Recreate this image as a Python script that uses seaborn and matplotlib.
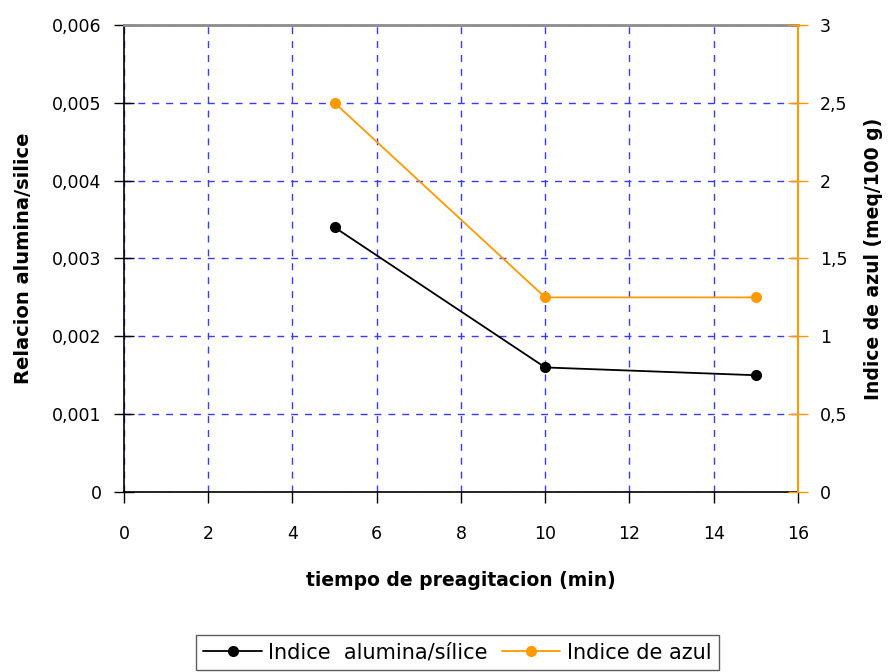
import matplotlib
matplotlib.use("Agg")
import matplotlib.pyplot as plt
from matplotlib.ticker import FuncFormatter, MultipleLocator
from matplotlib.lines import Line2D
import seaborn as sns
import pandas as pd

tiempo = [5, 10, 15]
alumina_silice = [0.0034, 0.0016, 0.0015]
indice_azul = [2.5, 1.25, 1.25]

sns.set_theme(style="white")
plt.rcParams["font.family"] = ["DejaVu Sans"]
plt.rcParams["text.color"] = "black"
plt.rcParams["axes.labelcolor"] = "black"
plt.rcParams["xtick.color"] = "black"
plt.rcParams["ytick.color"] = "black"

ORANGE = "#FF9900"
GRID = "#3a3aff"

df = pd.DataFrame({"t": tiempo, "a": alumina_silice, "b": indice_azul})

fig = plt.figure(figsize=(8.88, 6.72), dpi=100)
ax = fig.add_axes([0.1396, 0.2679, 0.759, 0.6949])
ax2 = ax.twinx()

sns.lineplot(data=df, x="t", y="a", ax=ax, color="black", marker="o",
             markersize=8, linewidth=1.3, markeredgewidth=0, zorder=3)
sns.lineplot(data=df, x="t", y="b", ax=ax2, color=ORANGE, marker="o",
             markersize=8, linewidth=1.3, markeredgewidth=0, zorder=3)

ax.set_xlim(0, 16)
ax.set_ylim(0, 0.006)
ax2.set_ylim(0, 3)
ax.xaxis.set_major_locator(MultipleLocator(2))
ax.yaxis.set_major_locator(MultipleLocator(0.001))
ax2.yaxis.set_major_locator(MultipleLocator(0.5))


def comma_fmt(v, _pos):
    if abs(v) < 1e-12:
        return "0"
    s = ("%.3f" % v).rstrip("0").rstrip(".") if v < 0.1 else ("%.1f" % v).rstrip("0").rstrip(".")
    return s.replace(".", ",")


ax.yaxis.set_major_formatter(FuncFormatter(comma_fmt))
ax2.yaxis.set_major_formatter(FuncFormatter(comma_fmt))
ax.xaxis.set_major_formatter(FuncFormatter(lambda v, p: "%d" % v))

ax.grid(True, which="major", color=GRID, linestyle=(0, (5, 5)), linewidth=1.0)
ax.set_axisbelow(True)
ax2.grid(False)

for s in ["left", "bottom"]:
    ax.spines[s].set_color("black")
    ax.spines[s].set_linewidth(1.2)
ax.spines["top"].set_color("#8c8c8c")
ax.spines["top"].set_linewidth(2)
ax2.spines["top"].set_visible(False)
ax2.spines["left"].set_visible(False)
ax2.spines["bottom"].set_visible(False)
ax.spines["right"].set_visible(False)
ax2.spines["right"].set_color(ORANGE)
ax2.spines["right"].set_linewidth(1.5)

ax.tick_params(axis="y", direction="inout", length=14, width=1, color="black",
               labelcolor="black", labelsize=12.5, pad=9, left=True)
ax.tick_params(axis="x", direction="out", length=8, width=1, color="black",
               labelcolor="black", labelsize=12.5, pad=16, bottom=True)
ax2.tick_params(axis="y", direction="inout", length=14, width=1, color=ORANGE,
                labelcolor="black", labelsize=12.5, pad=9, right=True)

ax.set_xlabel("tiempo de preagitacion (min)", fontsize=13.5, fontweight="bold", labelpad=20)
ax.set_ylabel("Relacion alumina/silice", fontsize=14, fontweight="bold", labelpad=14)
ax2.set_ylabel("Indice de azul (meq/100 g)", fontsize=13.5, fontweight="bold", labelpad=12)

handles = [
    Line2D([], [], color="black", marker="o", markersize=8, linewidth=1.3,
           markeredgewidth=0, label="Indice  alumina/sílice"),
    Line2D([], [], color=ORANGE, marker="o", markersize=8, linewidth=1.3,
           markeredgewidth=0, label="Indice de azul"),
]
leg = fig.legend(handles=handles, loc="lower center", bbox_to_anchor=(0.515, 0.0),
                 ncol=2, frameon=True, fancybox=False, fontsize=15,
                 handlelength=2.8, handletextpad=0.3, columnspacing=0.7,
                 borderpad=0.35, borderaxespad=0.1)
leg.get_frame().set_edgecolor("#333333")
leg.get_frame().set_linewidth(1.0)

fig.savefig("out.png", dpi=100, facecolor="white")
